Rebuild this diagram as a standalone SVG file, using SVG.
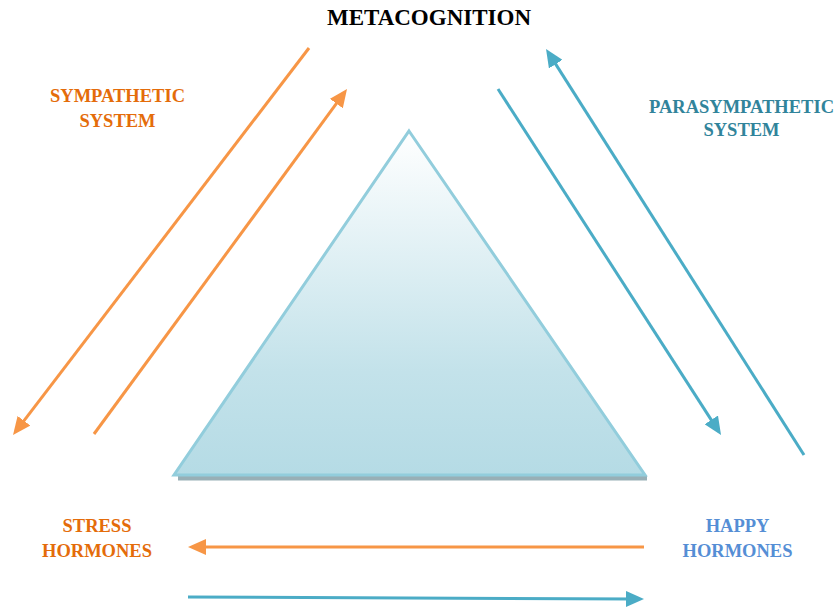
<svg xmlns="http://www.w3.org/2000/svg" width="837" height="609" viewBox="0 0 837 609">
  <style>
    .lbl { font-family: "Liberation Serif", "Times New Roman", serif; font-weight: bold; text-anchor: middle; }
    .title { font-size: 23px; fill: #000000; }
    .small { font-size: 18.5px; }
    .orange-t { fill: #E46C0A; }
    .teal-t { fill: #31849B; }
    .blue-t { fill: #558ED5; }
    .orange { stroke: #F79646; stroke-width: 3; fill: none; }
    .blue { stroke: #4BACC6; stroke-width: 3; fill: none; }
  </style>
  <defs>
    <linearGradient id="pyrFill" x1="0" y1="0" x2="0" y2="1">
      <stop offset="0" stop-color="#FFFFFF"/>
      <stop offset="0.7" stop-color="#C3E2EA"/>
      <stop offset="1" stop-color="#B5DBE5"/>
    </linearGradient>
    <marker id="headOrange" viewBox="0 0 18 16" refX="8" refY="8" markerWidth="18" markerHeight="16" markerUnits="userSpaceOnUse" orient="auto">
      <path d="M0,0 L18,8 L0,16 z" fill="#F79646"/>
    </marker>
    <marker id="headBlue" viewBox="0 0 18 16" refX="8" refY="8" markerWidth="18" markerHeight="16" markerUnits="userSpaceOnUse" orient="auto">
      <path d="M0,0 L18,8 L0,16 z" fill="#4BACC6"/>
    </marker>
  </defs>

  <rect width="837" height="609" fill="#FFFFFF"/>

  <!-- central pyramid -->
  <g id="pyramid">
    <rect x="178" y="476" width="469" height="4.5" fill="#98AFB6"/>
    <polygon points="409,131 645,475 174,475" fill="url(#pyrFill)" stroke="#92CDDC" stroke-width="3" stroke-linejoin="miter"/>
  </g>

  <!-- labels -->
  <g id="metacognition">
    <text class="lbl title" x="429" y="25">METACOGNITION</text>
  </g>
  <g id="sympathetic">
    <text class="lbl small orange-t" x="117.5" y="101.5">SYMPATHETIC</text>
    <text class="lbl small orange-t" x="117.5" y="126.5">SYSTEM</text>
  </g>
  <g id="parasympathetic">
    <text class="lbl small teal-t" x="741.5" y="113">PARASYMPATHETIC</text>
    <text class="lbl small teal-t" x="741.5" y="136">SYSTEM</text>
  </g>
  <g id="stress-hormones">
    <text class="lbl small orange-t" x="97" y="531.5">STRESS</text>
    <text class="lbl small orange-t" x="97" y="556.5">HORMONES</text>
  </g>
  <g id="happy-hormones">
    <text class="lbl small blue-t" x="737.5" y="531.5">HAPPY</text>
    <text class="lbl small blue-t" x="737.5" y="556.5">HORMONES</text>
  </g>

  <!-- connectors -->
  <g id="connectors">
    <line class="orange" x1="309" y1="48" x2="19.1" y2="427.1" marker-end="url(#headOrange)"/>
    <line class="orange" x1="94" y1="434" x2="341.1" y2="97.1" marker-end="url(#headOrange)"/>
    <line class="blue" x1="498" y1="89" x2="715.6" y2="426.6" marker-end="url(#headBlue)"/>
    <line class="blue" x1="804" y1="455" x2="551.4" y2="57.4" marker-end="url(#headBlue)"/>
    <line class="orange" x1="644" y1="547" x2="198" y2="547" marker-end="url(#headOrange)"/>
    <line class="blue" x1="188" y1="597" x2="634" y2="599" marker-end="url(#headBlue)"/>
  </g>
</svg>
